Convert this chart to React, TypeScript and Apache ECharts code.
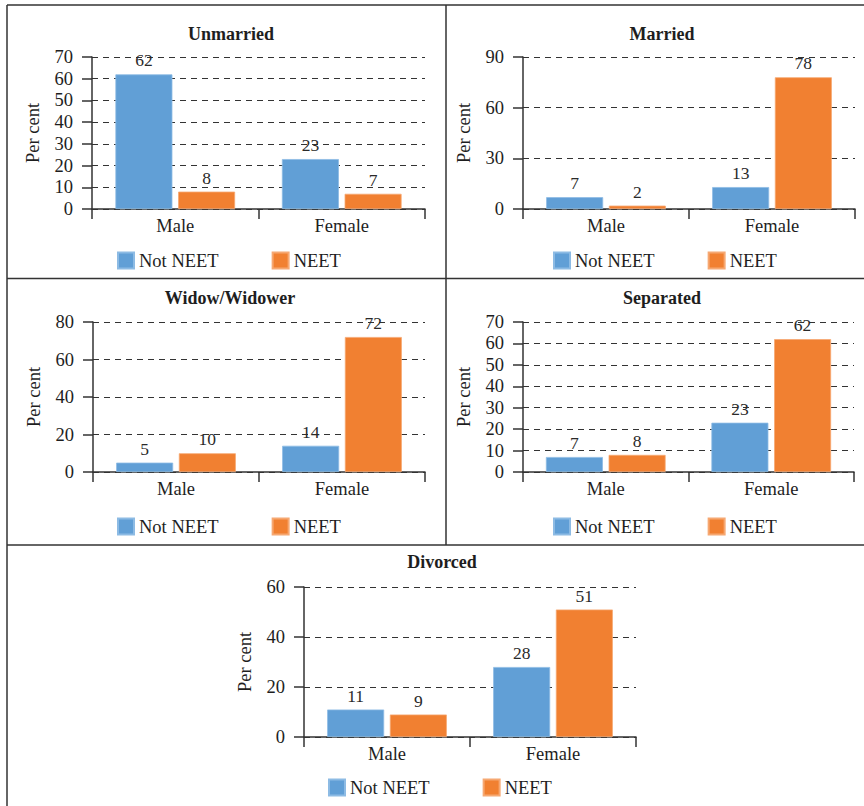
import React, { useEffect, useRef } from "react";
import * as echarts from "echarts";

const categories = ["Male", "Female"];
const seriesNames = ["Not NEET", "NEET"];
const panelTitles = ["Unmarried", "Married", "Widow/Widower", "Separated", "Divorced"];
const notNeetValues = [
  [62, 23],
  [7, 13],
  [5, 14],
  [7, 23],
  [11, 28],
];
const neetValues = [
  [8, 7],
  [2, 78],
  [10, 72],
  [8, 62],
  [9, 51],
];
const yMaxes = [70, 90, 80, 70, 60];
const yIntervals = [10, 30, 20, 10, 20];
const yAxisName = "Per cent";

// layout (pixels)
const grids = [
  { left: 92, top: 57, width: 333, height: 152 },
  { left: 523, top: 57, width: 332, height: 152 },
  { left: 93, top: 322, width: 332, height: 150 },
  { left: 523, top: 322, width: 331, height: 150 },
  { left: 304, top: 587, width: 332, height: 150 },
];
const titlePos = [
  { x: 231, y: 25 },
  { x: 662, y: 25 },
  { x: 230, y: 289 },
  { x: 662, y: 289 },
  { x: 442, y: 553 },
];
const legendPos = [
  { left: 117, top: 251 },
  { left: 553, top: 251 },
  { left: 117, top: 517 },
  { left: 553, top: 517 },
  { left: 328, top: 778 },
];

const FONT = '"Liberation Serif", "Times New Roman", serif';
const BLUE = "#619FD6";
const ORANGE = "#F18031";
const INK = "#333333";
const TEXT = "#1e1e1e";

export default function App() {
  const ref = useRef<HTMLDivElement>(null);
  useEffect(() => {
    document.body.style.margin = "0";
    document.body.style.overflow = "hidden";
    const chart = echarts.init(ref.current!, undefined, { renderer: "svg" });
    const series: any[] = [];
    panelTitles.forEach((_, i) => {
      [notNeetValues[i], neetValues[i]].forEach((vals, s) => {
        series.push({
          type: "bar",
          name: seriesNames[s],
          xAxisIndex: i,
          yAxisIndex: i,
          data: vals,
          barWidth: 57,
          barGap: "10%",
          itemStyle: {
            color: s === 0 ? BLUE : ORANGE,
            borderColor: s === 0 ? "#8DBBE4" : "#F6A872",
            borderWidth: 0.8,
          },
          label: {
            show: true,
            position: "top",
            distance: 5,
            fontSize: 17.5,
            fontFamily: FONT,
            color: "#2a2a2a",
          },
        });
      });
    });
    const line = (x1: number, y1: number, x2: number, y2: number) => ({
      type: "line",
      shape: { x1, y1, x2, y2 },
      style: { stroke: INK, lineWidth: 1.5 },
    });
    chart.setOption({
      animation: false,
      backgroundColor: "#fff",
      title: panelTitles.map((t, i) => ({
        text: t,
        left: titlePos[i].x,
        top: titlePos[i].y,
        textAlign: "center",
        padding: 0,
        textStyle: { fontSize: 18, fontWeight: "bold", fontFamily: FONT, color: TEXT },
      })),
      legend: legendPos.map((p) => ({
        data: seriesNames,
        left: p.left,
        top: p.top,
        padding: 0,
        itemWidth: 16,
        itemHeight: 16,
        itemGap: 53,
        icon: "rect",
        selectedMode: false,
        textStyle: { fontSize: 18.5, fontFamily: FONT, color: TEXT },
      })),
      grid: grids.map((g) => ({ ...g, containLabel: false })),
      xAxis: grids.map((_, i) => ({
        type: "category",
        gridIndex: i,
        data: categories,
        axisLine: { lineStyle: { color: INK, width: 1.5 } },
        axisTick: { show: true, length: 10, lineStyle: { color: INK, width: 1.5 } },
        axisLabel: { fontSize: 18.5, fontFamily: FONT, color: TEXT, margin: 7 },
      })),
      yAxis: grids.map((_, i) => ({
        type: "value",
        gridIndex: i,
        min: 0,
        max: yMaxes[i],
        interval: yIntervals[i],
        name: yAxisName,
        nameLocation: "middle",
        nameGap: 50,
        nameRotate: 90,
        nameTextStyle: { fontSize: 18.5, fontFamily: FONT, color: TEXT },
        axisLine: { show: true, lineStyle: { color: INK, width: 1.5 } },
        axisTick: { show: true, length: 10, lineStyle: { color: INK, width: 1.5 } },
        axisLabel: { fontSize: 18.5, fontFamily: FONT, color: TEXT, margin: 19 },
        splitLine: { show: true, lineStyle: { color: INK, width: 1.2, type: [6, 5] } },
      })),
      series,
      graphic: [
        line(7, 5, 864, 5),
        line(7, 5, 7, 806),
        line(446, 5, 446, 545),
        line(7, 278.5, 864, 278.5),
        line(7, 545, 864, 545),
      ],
    });
    return () => chart.dispose();
  }, []);
  return <div ref={ref} style={{ width: 864, height: 806 }} />;
}
